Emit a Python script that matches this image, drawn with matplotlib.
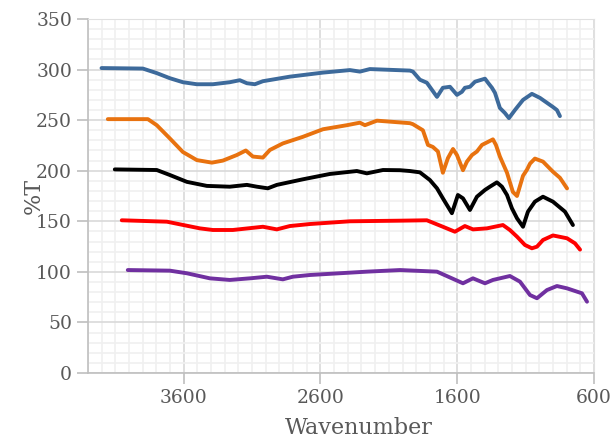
import matplotlib.pyplot as plt
from matplotlib.ticker import MultipleLocator

# spectra (wavenumber, %T)
blue_wn = [4201, 3899, 3797, 3702, 3606, 3504, 3387, 3263, 3190, 3138, 3080, 3021, 2824, 2582, 2385,
           2312, 2239, 1946, 1924, 1873, 1822, 1748, 1705, 1653, 1602, 1566, 1544, 1507, 1470, 1397,
           1375, 1346, 1324, 1288, 1251, 1222, 1178, 1119, 1054, 995, 900, 871, 849]
blue_t = [301.5, 301, 296.5, 291.5, 287.5, 285.5, 285.5, 287.5, 289.5, 286.5, 285.5, 288.5, 293, 297, 299.5,
          298, 300.5, 299, 298, 290, 287, 273, 282, 283, 275, 278, 282, 283, 288, 291,
          287, 282, 277, 262, 257, 252, 260, 270, 276, 272, 263, 260, 254]

orange_wn = [4155, 3862, 3797, 3702, 3606, 3504, 3394, 3314, 3212, 3146, 3094, 3021, 2970, 2875, 2729,
             2582, 2407, 2312, 2275, 2187, 1946, 1924, 1851, 1814, 1778, 1741, 1705, 1668, 1631, 1602,
             1558, 1529, 1492, 1456, 1419, 1375, 1339, 1317, 1288, 1236, 1193, 1163, 1119, 1090, 1068,
             1032, 973, 900, 849, 797]
orange_t = [251, 251, 245, 232, 218.5, 210.5, 208, 210, 215.5, 220, 214, 213, 220.5, 227, 233.5,
            241, 245, 247.5, 245, 249.5, 247, 246, 240, 225.5, 223.5, 219, 198, 212.5, 221.5, 215.5,
            200.5, 209, 215.5, 219, 225.5, 228.5, 231, 225.5, 214, 198, 179, 175, 195, 201, 207,
            212, 209, 199, 193, 182.5]

black_wn = [4104, 3797, 3702, 3577, 3431, 3263, 3138, 3065, 2985, 2919, 2729, 2531, 2334, 2261, 2143,
            2019, 1946, 1873, 1800, 1748, 1705, 1639, 1595, 1558, 1507, 1456, 1397, 1361, 1310, 1273,
            1236, 1200, 1163, 1119, 1083, 1032, 973, 900, 812, 754]
black_t = [201.3, 200.7, 195.8, 189, 185, 184.2, 186, 184.2, 182.6, 186, 191.5, 196.8, 199.7, 197.4, 200.7,
           200.5, 199.7, 198.4, 190.8, 182.6, 172.7, 158, 176, 172.7, 161.2, 174.3, 181, 184.2, 188.5, 184.2,
           176, 162.8, 153, 144.6, 159.5, 169.4, 174.3, 169.4, 159.5, 146.3]

red_wn = [4053, 3723, 3482, 3387, 3241, 3021, 2919, 2824, 2677, 2385, 2019, 1822, 1705, 1617, 1544,
          1485, 1383, 1266, 1215, 1163, 1105, 1054, 1017, 973, 900, 797, 739, 702]
red_t = [151, 149.6, 143, 141.4, 141.4, 144.6, 142, 145.3, 147.3, 150, 150.6, 151, 144.6, 139.7, 145.3,
         142, 143, 146.3, 141.4, 134.8, 126.6, 123.3, 124.9, 131.5, 136, 133.2, 128.2, 122]

purple_wn = [4009, 3702, 3577, 3409, 3263, 3116, 2992, 2875, 2802, 2677, 2261, 2019, 1748, 1558, 1485,
             1397, 1339, 1215, 1141, 1068, 1017, 944, 871, 797, 688, 651]
purple_t = [101.8, 101.2, 98.6, 93.6, 92, 93.6, 95.2, 92.6, 95.2, 96.9, 100.2, 101.8, 100.2, 88.7, 93.6,
            88.7, 92, 95.9, 90.3, 77.1, 73.9, 82, 86, 83.7, 78.8, 70.5]

plt.rcParams['font.family'] = 'DejaVu Serif'

fig = plt.figure(figsize=(6.14, 4.38), dpi=100)
ax = fig.add_axes([0.1433, 0.1484, 0.8241, 0.8082])

lw = 2.8
ax.plot(blue_wn, blue_t, color='#3D6A9B', lw=lw, solid_capstyle='round', solid_joinstyle='round')
ax.plot(orange_wn, orange_t, color='#E8720F', lw=lw, solid_capstyle='round', solid_joinstyle='round')
ax.plot(black_wn, black_t, color='black', lw=lw, solid_capstyle='round', solid_joinstyle='round')
ax.plot(red_wn, red_t, color='#FF0000', lw=lw, solid_capstyle='round', solid_joinstyle='round')
ax.plot(purple_wn, purple_t, color='#7030A0', lw=lw, solid_capstyle='round', solid_joinstyle='round')

ax.set_xlim(4300, 600)
ax.set_ylim(0, 350)
ax.xaxis.set_major_locator(MultipleLocator(1000, offset=600))
ax.xaxis.set_minor_locator(MultipleLocator(100))
ax.yaxis.set_major_locator(MultipleLocator(50))
ax.yaxis.set_minor_locator(MultipleLocator(10))

ax.grid(which='minor', color='#F0F0F0', lw=1.2)
ax.grid(which='major', color='#D9D9D9', lw=1.2)
ax.set_axisbelow(True)

for s in ['top', 'right']:
    ax.spines[s].set_color('#E0E0E0')
for s in ['left', 'bottom']:
    ax.spines[s].set_color('#BFBFBF')
    ax.spines[s].set_linewidth(1.2)

ax.tick_params(which='major', length=8, width=1.2, color='#BFBFBF', labelcolor='#595959', labelsize=13.5)
ax.tick_params(which='minor', length=0)

ax.set_xlabel('Wavenumber', fontsize=16, color='#595959')
ax.xaxis.set_label_coords(0.535, -0.125)
ax.set_ylabel('%T', fontsize=16, color='#595959', labelpad=-6)

fig.savefig('out.png', dpi=100)
